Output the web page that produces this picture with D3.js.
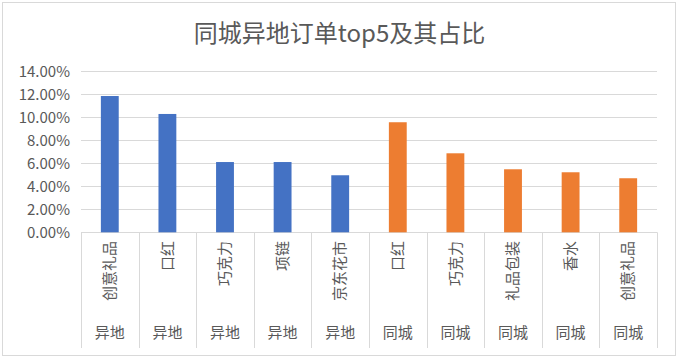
<!DOCTYPE html>
<html><head><meta charset="utf-8">
<script src="https://cdn.jsdelivr.net/npm/d3@7"></script>
<style>body{margin:0;background:#fff}svg{display:block}</style>
</head><body>
<svg id="c" width="680" height="359"></svg>
<script>
const title = "同城异地订单top5及其占比";
const items = ["创意礼品","口红","巧克力","项链","京东花市","口红","巧克力","礼品包装","香水","创意礼品"];
const groups = ["异地","异地","异地","异地","异地","同城","同城","同城","同城","同城"];
const values = [0.1185,0.1029,0.0611,0.0611,0.0496,0.0957,0.0687,0.0548,0.0522,0.0470];
const yTicks = [0,0.02,0.04,0.06,0.08,0.10,0.12,0.14];
const colorOf = {"异地":"#4472C4","同城":"#ED7D31"};

const svg = d3.select("#c");
const font = "'Noto Sans CJK SC', 'Microsoft YaHei', sans-serif";
const L = 81, R = 657, T = 71.3, B = 232.3;

svg.append("rect").attr("x",2.5).attr("y",2.5).attr("width",673).attr("height",353)
  .attr("fill","#fff").attr("stroke","#d9d9d9");

svg.append("text").attr("x",339.5).attr("y",41.5).attr("text-anchor","middle")
  .attr("font-family",font).attr("font-size",24).attr("fill","#595959").text(title);

const idx = d3.range(items.length);
const x = d3.scaleBand().domain(idx).range([L,R]).paddingInner(0.69).paddingOuter(0.345);
const xb = d3.scaleBand().domain(idx).range([L,R]);
const y = d3.scaleLinear().domain([0,0.14]).range([B,T]);

// gridlines
svg.append("g").selectAll("line").data(yTicks).join("line")
  .attr("x1",L).attr("x2",R).attr("y1",d=>Math.round(y(d))+0.5).attr("y2",d=>Math.round(y(d))+0.5)
  .attr("stroke","#d9d9d9").attr("stroke-width",1);

// y labels
svg.append("g").selectAll("text").data(yTicks).join("text")
  .attr("x",70).attr("y",d=>y(d)).attr("dy","0.35em").attr("text-anchor","end")
  .attr("font-family",font).attr("font-size",15).attr("fill","#595959")
  .text(d=>d3.format(".2%")(d));

// bars
svg.append("g").selectAll("rect").data(idx).join("rect")
  .attr("x",i=>x(i)).attr("width",x.bandwidth())
  .attr("y",i=>y(values[i])).attr("height",i=>y(0)-y(values[i]))
  .attr("fill",i=>colorOf[groups[i]]);

// category separators
const bounds = idx.map(i=>xb(i)).concat([R]);
svg.append("g").selectAll("line").data(bounds).join("line")
  .attr("x1",d=>Math.round(d)+0.5).attr("x2",d=>Math.round(d)+0.5)
  .attr("y1",B).attr("y2",348).attr("stroke","#d9d9d9");

// item labels rotated
svg.append("g").selectAll("text").data(idx).join("text")
  .attr("transform",i=>`translate(${xb(i)+xb.bandwidth()/2},241) rotate(-90)`)
  .attr("text-anchor","end").attr("dy","0.35em")
  .attr("font-family",font).attr("font-size",15).attr("fill","#595959")
  .text(i=>items[i]);

// group labels
svg.append("g").selectAll("text").data(idx).join("text")
  .attr("x",i=>xb(i)+xb.bandwidth()/2).attr("y",333).attr("dy","0.35em")
  .attr("text-anchor","middle")
  .attr("font-family",font).attr("font-size",15).attr("fill","#595959")
  .text(i=>groups[i]);
</script>
</body></html>
